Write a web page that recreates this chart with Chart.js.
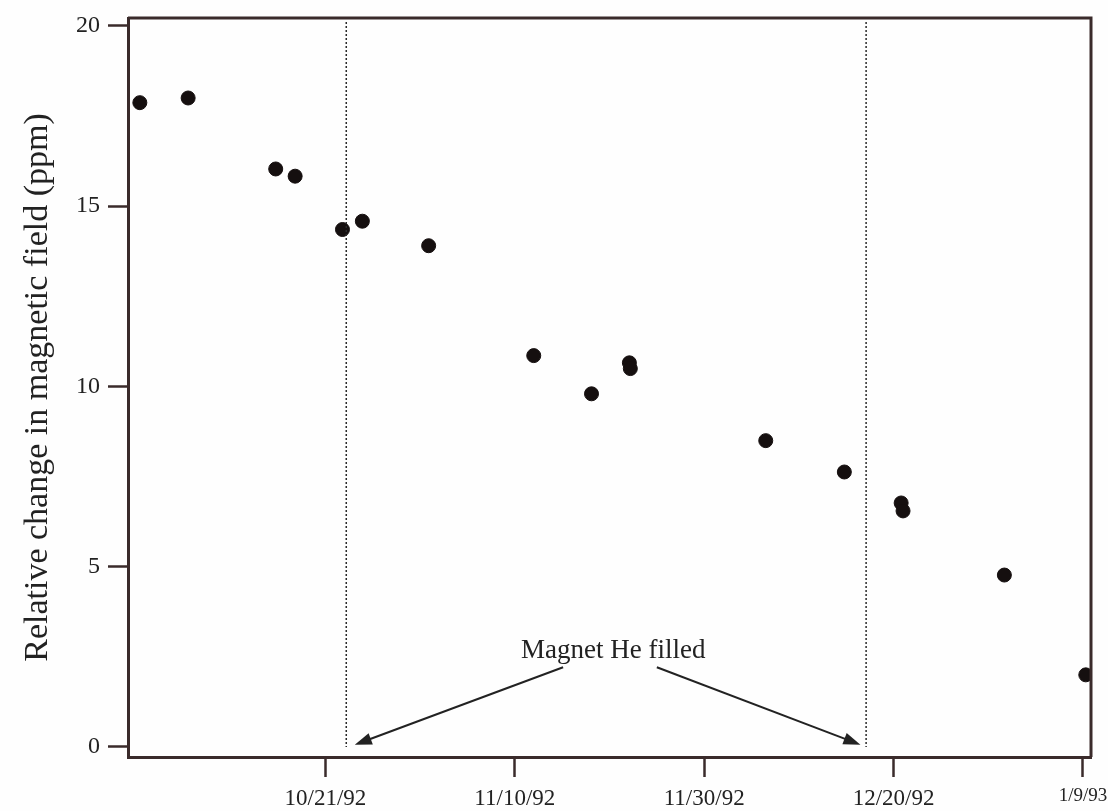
<!DOCTYPE html>
<html>
<head>
<meta charset="utf-8">
<script src="https://cdn.jsdelivr.net/npm/chart.js@4.4.1/dist/chart.umd.min.js"></script>
<style>
  html, body { margin: 0; padding: 0; background: #fefefe; }
  #wrap { position: relative; width: 1108px; height: 811px; }
</style>
</head>
<body>
<div id="wrap"><canvas id="chart"></canvas></div>
<script>
// x values are days counted from 10/21/92
const tickDays = [0, 20, 40, 60, 80];
const tickLabels = ["10/21/92", "11/10/92", "11/30/92", "12/20/92", "1/9/93"];
const yTicks = [0, 5, 10, 15, 20];

// measured points (ppm)
const pointDays = [-19.6, -14.5, -5.25, -3.2, 1.8, 3.9, 10.9, 22.0, 28.1, 32.1, 32.2, 46.5, 54.8, 60.8, 61.0, 71.7, 80.3];
const fieldChange = [17.87, 18.0, 16.03, 15.83, 14.35, 14.58, 13.9, 10.85, 9.79, 10.65, 10.49, 8.49, 7.62, 6.76, 6.54, 4.76, 1.99];

// helium fills (dotted lines)
const fillDays = [2.2, 57.1];
const fillLabel = "Magnet He filled";

const ink = "#3a2b2b";
const serif = "'Liberation Serif', 'DejaVu Serif', serif";

// dotted lines, frame, arrows and label
const extras = {
  id: 'extras',
  afterDatasetsDraw(chart) {
    const { ctx, chartArea: a, scales: { x, y } } = chart;
    ctx.save();

    // dotted fill lines
    ctx.strokeStyle = "#2a2a2a";
    ctx.lineWidth = 1.5;
    ctx.setLineDash([2, 2]);
    fillDays.forEach(d => {
      const px = x.getPixelForValue(d);
      ctx.beginPath();
      ctx.moveTo(px, a.top + 4);
      ctx.lineTo(px, a.bottom - 10);
      ctx.stroke();
    });
    ctx.setLineDash([]);

    // top and right frame
    ctx.strokeStyle = ink;
    ctx.lineWidth = 3;
    ctx.beginPath();
    ctx.moveTo(a.left, a.top);
    ctx.lineTo(a.right, a.top);
    ctx.lineTo(a.right, a.bottom);
    ctx.stroke();

    // label
    ctx.fillStyle = "#222";
    ctx.font = "27px " + serif;
    ctx.textAlign = "center";
    ctx.textBaseline = "middle";
    ctx.fillText(fillLabel, x.getPixelForValue(30.4), y.getPixelForValue(2.65));

    // arrows to each fill
    const starts = [[25.1, 2.2], [35.0, 2.2]];
    fillDays.forEach((d, i) => {
      const x0 = x.getPixelForValue(starts[i][0]);
      const y0 = y.getPixelForValue(starts[i][1]);
      const x1 = x.getPixelForValue(d + (i === 0 ? 0.9 : -0.6));
      const y1 = y.getPixelForValue(0.05);
      const ang = Math.atan2(y1 - y0, x1 - x0);
      const len = 17, half = 6;
      ctx.strokeStyle = "#222";
      ctx.lineWidth = 2;
      ctx.beginPath();
      ctx.moveTo(x0, y0);
      ctx.lineTo(x1 - Math.cos(ang) * len * 0.8, y1 - Math.sin(ang) * len * 0.8);
      ctx.stroke();
      ctx.fillStyle = "#222";
      ctx.beginPath();
      ctx.moveTo(x1, y1);
      ctx.lineTo(x1 - Math.cos(ang) * len + Math.sin(ang) * half, y1 - Math.sin(ang) * len - Math.cos(ang) * half);
      ctx.lineTo(x1 - Math.cos(ang) * len - Math.sin(ang) * half, y1 - Math.sin(ang) * len + Math.cos(ang) * half);
      ctx.closePath();
      ctx.fill();
    });
    ctx.restore();
  }
};

new Chart(document.getElementById("chart"), {
  type: 'scatter',
  data: {
    datasets: [{
      label: "Relative change",
      data: pointDays.map((d, i) => ({ x: d, y: fieldChange[i] })),
      backgroundColor: "#150f0f",
      borderColor: "#150f0f",
      pointRadius: 7,
      pointHoverRadius: 7
    }]
  },
  options: {
    responsive: true,
    maintainAspectRatio: false,
    animation: false,
    layout: { padding: { top: 18, right: 17, left: 0, bottom: 0 } },
    plugins: {
      legend: { display: false },
      tooltip: { enabled: false }
    },
    scales: {
      x: {
        type: 'linear',
        min: -20.85,
        max: 80.85,
        afterBuildTicks: s => { s.ticks = tickDays.map(v => ({ value: v })); },
        afterFit: s => { s.height = 54; s.paddingLeft = 0; s.paddingRight = 0; },
        ticks: {
          callback: v => tickLabels[tickDays.indexOf(v)],
          // the last label is set smaller, as in the original
          font: c => ({ family: serif, size: c.index === tickDays.length - 1 ? 19 : 23 }),
          color: "#222",
          padding: 8,
          maxRotation: 0,
          autoSkip: false
        },
        grid: { drawOnChartArea: false, tickLength: 20, tickWidth: 2.5, tickColor: ink },
        border: { color: ink, width: 3 }
      },
      y: {
        min: -0.29,
        max: 20.22,
        afterBuildTicks: s => { s.ticks = yTicks.map(v => ({ value: v })); },
        afterFit: s => { s.width = 128; s.paddingTop = 0; s.paddingBottom = 0; },
        title: {
          display: true,
          text: "Relative change in magnetic field (ppm)",
          font: { family: serif, size: 34 },
          color: "#222",
          padding: { top: 18, bottom: 4 }
        },
        ticks: {
          font: { family: serif, size: 24 },
          color: "#222",
          padding: 8
        },
        grid: { drawOnChartArea: false, tickLength: 20, tickWidth: 2.5, tickColor: ink },
        border: { color: ink, width: 3 }
      }
    }
  },
  plugins: [extras]
});
</script>
</body>
</html>
